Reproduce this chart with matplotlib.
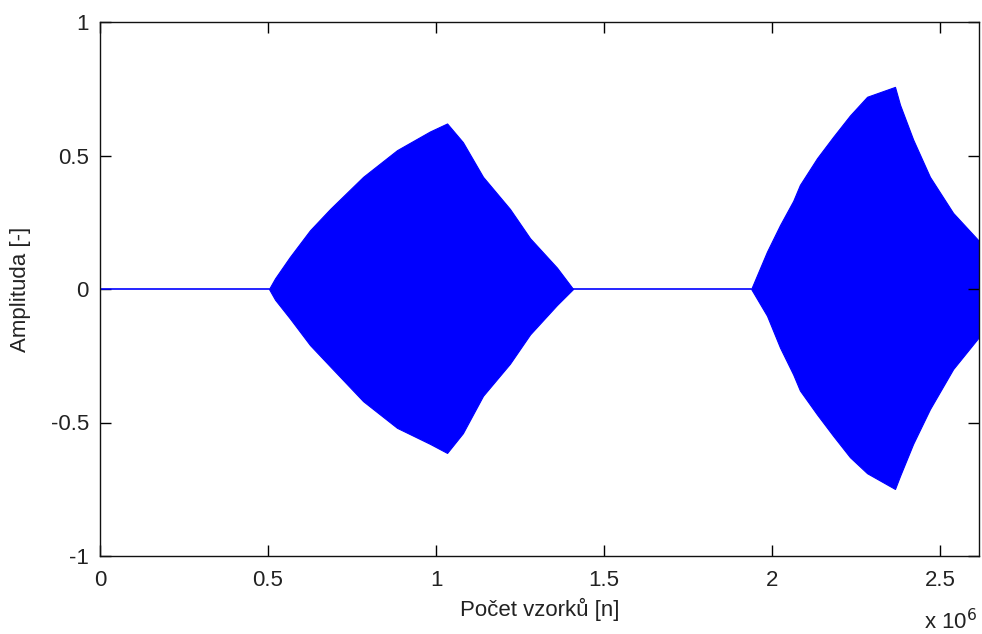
import matplotlib.pyplot as plt

plt.rcParams['font.family'] = ['Liberation Sans', 'DejaVu Sans']

# silent stretches of the recording
quiet_x = [0.0, 0.503e6, 1.408e6, 1.938e6]

# first burst: envelope (upper / lower) of the signal
burst1_x = [0.503, 0.521, 0.565, 0.625, 0.685, 0.783, 0.884, 0.982, 1.033,
            1.080, 1.140, 1.220, 1.280, 1.360, 1.408]
burst1_hi = [0.0, 0.04, 0.12, 0.22, 0.30, 0.42, 0.52, 0.59, 0.62,
             0.55, 0.42, 0.30, 0.19, 0.08, 0.0]
burst1_lo = [0.0, -0.04, -0.11, -0.21, -0.29, -0.42, -0.52, -0.58, -0.614,
             -0.54, -0.40, -0.28, -0.17, -0.06, 0.0]

# second burst, cut off at the end of the record
burst2_x = [1.938, 1.985, 2.024, 2.063, 2.083, 2.134, 2.182, 2.232, 2.283,
            2.366, 2.381, 2.420, 2.470, 2.539, 2.616]
burst2_hi = [0.0, 0.14, 0.24, 0.33, 0.39, 0.49, 0.57, 0.65, 0.72,
             0.757, 0.69, 0.56, 0.42, 0.285, 0.18]
burst2_lo = [0.0, -0.10, -0.22, -0.32, -0.38, -0.47, -0.55, -0.63, -0.69,
             -0.749, -0.70, -0.58, -0.45, -0.30, -0.18]

xticks = [0, 0.5e6, 1.0e6, 1.5e6, 2.0e6, 2.5e6]
xticklabels = ['0', '0.5', '1', '1.5', '2', '2.5']
yticks = [-1, -0.5, 0, 0.5, 1]
yticklabels = ['-1', '-0.5', '0', '0.5', '1']

fig = plt.figure(figsize=(9.82, 6.34), dpi=100)
ax = fig.add_axes([100 / 982, 78 / 634, 879 / 982, 534 / 634])

blue = '#0000ff'
ax.plot(quiet_x[:2], [0, 0], color=blue, lw=1.2)
ax.plot(quiet_x[2:], [0, 0], color=blue, lw=1.2)
for bx, hi, lo in [(burst1_x, burst1_hi, burst1_lo), (burst2_x, burst2_hi, burst2_lo)]:
    xs = [v * 1e6 for v in bx]
    ax.fill_between(xs, lo, hi, color=blue, lw=0.8, edgecolor=blue)

ax.set_xlim(0, 2.616e6)
ax.set_ylim(-1, 1)
ax.set_xticks(xticks)
ax.set_xticklabels(xticklabels)
ax.set_yticks(yticks)
ax.set_yticklabels(yticklabels)
ax.tick_params(direction='in', length=8, width=1, top=True, right=True,
               labelsize=16, labelcolor='#222222', pad=8)
ax.tick_params(axis='x', pad=10)
for sp in ax.spines.values():
    sp.set_linewidth(1.0)
    sp.set_color('#111111')

ax.set_xlabel('Počet vzorků [n]', fontsize=16, color='#222222', labelpad=5)
ax.set_ylabel('Amplituda [-]', fontsize=16, color='#222222', labelpad=14)
ax.text(0.937, -0.122, r'x 10$^{6}$', transform=ax.transAxes, fontsize=16,
        color='#222222', ha='left', va='center')

fig.savefig('out.png', dpi=100)
